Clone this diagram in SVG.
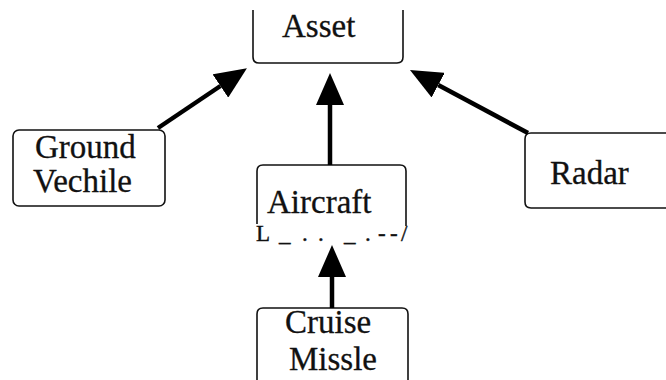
<svg xmlns="http://www.w3.org/2000/svg" width="666" height="380" viewBox="0 0 666 380">
  <defs>
    <style>
      .box { fill: none; stroke: #111; stroke-width: 1.6; }
      .label { font-family: "Liberation Serif", "Times New Roman", serif; font-size: 33px; fill: #111; stroke: #111; stroke-width: 0.3; }
      .edge { fill: none; stroke: #000; stroke-width: 4.5; }
      .rim { font-family: "Liberation Serif", "Times New Roman", serif; font-size: 23px; fill: #111; stroke: #111; stroke-width: 0.4; }
    </style>
    <!-- filled triangular head, drawn forward from the end of each line -->
    <marker id="head" viewBox="0 0 32 28" refX="0" refY="14" markerWidth="32" markerHeight="28" markerUnits="userSpaceOnUse" orient="auto">
      <path d="M0,0 L32,14 L0,28 Z" fill="#000"/>
    </marker>
  </defs>
  <rect width="666" height="380" fill="#fff"/>

  <g id="asset">
    <path class="box" d="M253,10 V57 Q253,63 259,63 H397 Q403,63 403,57 V10"/>
    <text class="label" x="282" y="37">Asset</text>
  </g>

  <g id="ground-vechile">
    <rect class="box" x="13" y="130" width="152" height="76" rx="6"/>
    <text class="label" x="35" y="158">Ground</text>
    <text class="label" x="33" y="192">Vechile</text>
  </g>

  <g id="aircraft">
    <path class="box" d="M257,224 V171 Q257,165 263,165 H400 Q406,165 406,171 V226"/>
    <text class="label" x="267" y="213">Aircraft</text>
    <text class="rim" x="256 279 302 318 344 365 378 390 401" y="241">L_.._.--/</text>
  </g>

  <g id="radar">
    <path class="box" d="M670,133 H531 Q525,133 525,139 V202 Q525,208 531,208 H670"/>
    <text class="label" x="550" y="184">Radar</text>
  </g>

  <g id="cruise-missle">
    <path class="box" d="M257,382 V314 Q257,308 263,308 H402 Q408,308 408,314 V382"/>
    <text class="label" x="285" y="333">Cruise</text>
    <text class="label" x="289" y="370">Missle</text>
  </g>

  <g id="connectors">
    <line class="edge" x1="158" y1="128" x2="220.4" y2="86" marker-end="url(#head)"/>
    <line class="edge" x1="330" y1="165" x2="330" y2="105" marker-end="url(#head)"/>
    <line class="edge" x1="528" y1="133" x2="438.2" y2="85.1" marker-end="url(#head)"/>
    <line class="edge" x1="332" y1="308" x2="332" y2="277" marker-end="url(#head)"/>
  </g>
</svg>
